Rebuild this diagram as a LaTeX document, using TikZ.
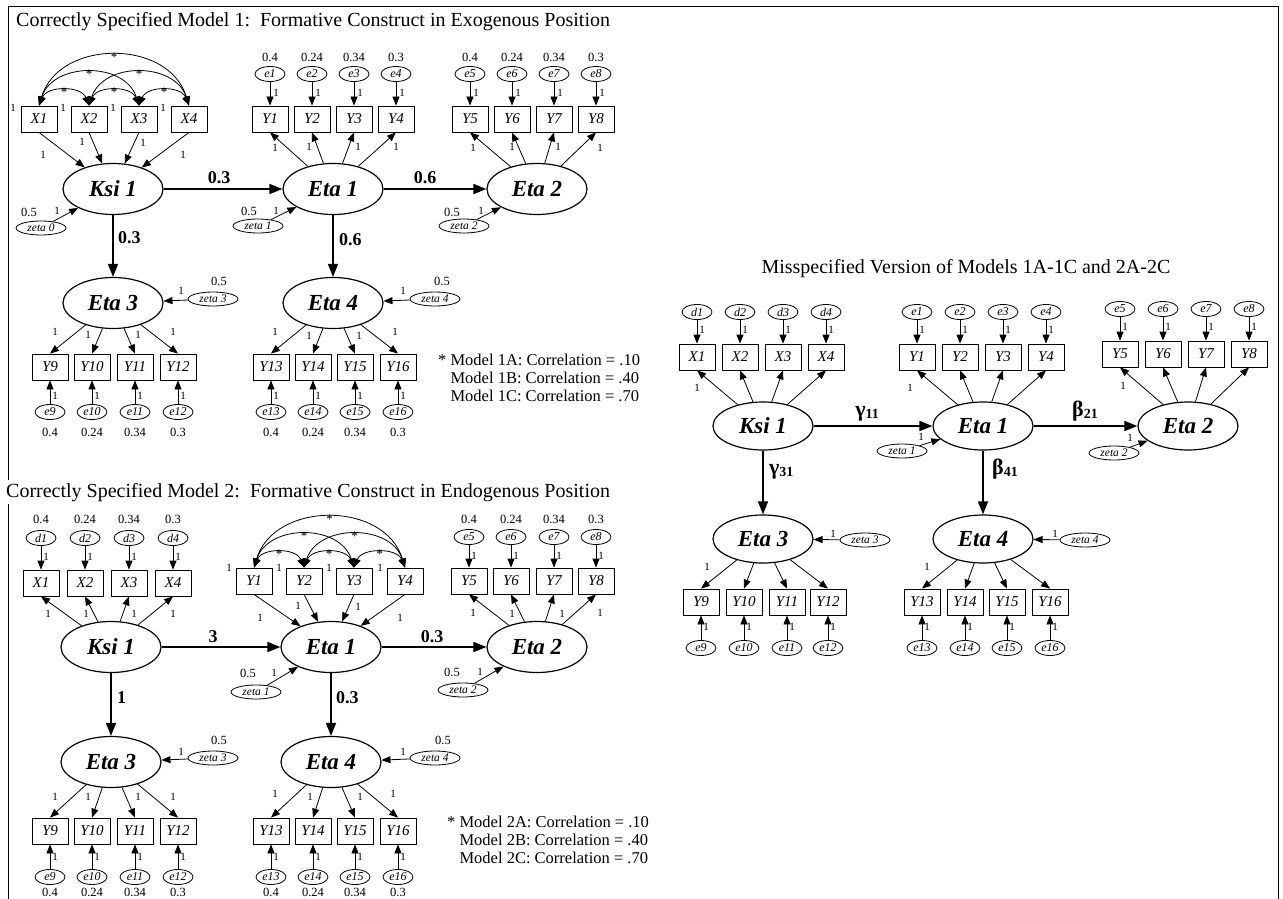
\documentclass[tikz,border=0pt]{standalone}
\usepackage{fontspec}
\setmainfont{Liberation Serif}
\usetikzlibrary{shapes.geometric,arrows.meta}
\newcommand\myfs[1]{\fontsize{#1}{#1}\selectfont}

\begin{document}
\begin{tikzpicture}[x=1pt,y=-1pt,
  lat/.style={draw,ellipse,line width=1.2pt,minimum width=100pt,minimum height=51pt,inner sep=0pt,font=\myfs{23}\bfseries\itshape},
  latr/.style={lat,minimum height=48pt},
  obs/.style={draw,rectangle,line width=0.8pt,minimum width=36pt,minimum height=26pt,inner sep=0pt,font=\myfs{15}\itshape},
  err/.style={draw,ellipse,line width=0.8pt,minimum width=30pt,minimum height=15pt,inner sep=0pt,font=\myfs{12}\itshape},
  zet/.style={draw,ellipse,line width=0.8pt,minimum width=50pt,minimum height=14pt,inner sep=0pt,font=\myfs{11.5}\itshape},
  val/.style={font=\myfs{12.5},inner sep=0pt},
  one/.style={font=\myfs{11},inner sep=0pt},
  coef/.style={font=\myfs{18}\bfseries,inner sep=0pt},
  ttl/.style={font=\myfs{20},inner sep=0pt},
  note/.style={font=\myfs{16.5},inner sep=0pt},
  ast/.style={font=\myfs{13},inner sep=0pt,yshift=-2pt},
  big/.style={-{Triangle[length=13pt,width=10pt]},line width=1.5pt},
  sm/.style={-{Triangle[length=9pt,width=7pt]},line width=0.8pt},
  dbl/.style={{Triangle[length=9pt,width=7pt]}-{Triangle[length=9pt,width=7pt]},line width=0.8pt},
]
\useasboundingbox (0,0) rectangle (1283,899);
\fill[white] (0,0) rectangle (1283,899);

% frame
\draw[line width=1pt] (8,899) -- (8,7) -- (1278,7) -- (1278,899);

% ================= Model 1 =================
\node[ttl,anchor=base west] at (16,27) {Correctly Specified Model 1:\ \ Formative Construct in Exogenous Position};

\node[lat] (aKsi) at (113,189) {Ksi 1};
\node[lat] (aEta1) at (333,189) {Eta 1};
\node[lat] (aEta2) at (537,189) {Eta 2};
\node[lat] (aEta3) at (113,303) {Eta 3};
\node[lat] (aEta4) at (333,303) {Eta 4};

% formative indicators
\foreach \i/\x in {1/39,2/89,3/139,4/189}{
  \node[obs] (aX\i) at (\x,119) {X\i};
  \node[one] at (\x-26,108) {1};
}
\foreach \i in {1,...,4} \draw[sm] (aX\i.south) -- (aKsi);
\node[one] at (43,155) {1};
\node[one] at (82,142) {1};
\node[one] at (143,143) {1};
\node[one] at (183,155) {1};

% correlations among the X's
\draw[dbl] (aX1.north) .. controls +(8,-20) and +(-8,-20) .. (aX2.north) node[ast,pos=.5] {*};
\draw[dbl] (aX2.north) .. controls +(8,-20) and +(-8,-20) .. (aX3.north) node[ast,pos=.5] {*};
\draw[dbl] (aX3.north) .. controls +(8,-20) and +(-8,-20) .. (aX4.north) node[ast,pos=.5] {*};
\draw[dbl] (aX1.north) .. controls +(14,-44) and +(-14,-44) .. (aX3.north) node[ast,pos=.5] {*};
\draw[dbl] (aX2.north) .. controls +(14,-44) and +(-14,-44) .. (aX4.north) node[ast,pos=.5] {*};
\draw[dbl] (aX1.north) .. controls +(20,-67) and +(-20,-67) .. (aX4.north) node[ast,pos=.5] {*};

% reflective indicators of Eta 1 and Eta 2
\foreach \i/\x/\v in {1/270/0.4,2/312/0.24,3/354/0.34,4/396/0.3,5/470/0.4,6/512/0.24,7/554/0.34,8/596/0.3}{
  \node[obs] (aY\i) at (\x,119) {Y\i};
  \node[err] (ae\i) at (\x,74) {e\i};
  \node[val] at (\x,57) {\v};
  \draw[sm] (ae\i) -- (aY\i);
  \node[one] at (\x+6,93) {1};
}
\foreach \i in {1,...,4} \draw[sm] (aEta1) -- (aY\i.south);
\foreach \i in {5,...,8} \draw[sm] (aEta2) -- (aY\i.south);
\node[one] at (275,148) {1};
\node[one] at (309,147) {1};
\node[one] at (358,147) {1};
\node[one] at (396,147) {1};
\node[one] at (473,148) {1};
\node[one] at (512,147) {1};
\node[one] at (558,147) {1};
\node[one] at (600,148) {1};

% disturbances
\node[zet] (aZ0) at (41,228) {zeta 0};
\node[val] at (29,212) {0.5};
\node[one] at (57,211) {1};
\draw[sm] (aZ0) -- (aKsi);
\node[zet] (aZ1) at (258,226) {zeta 1};
\node[val] at (249,211) {0.5};
\node[one] at (276,211) {1};
\draw[sm] (aZ1) -- (aEta1);
\node[zet] (aZ2) at (464,226) {zeta 2};
\node[val] at (452,212) {0.5};
\node[one] at (481,211) {1};
\draw[sm] (aZ2) -- (aEta2);
\node[zet] (aZ3) at (213,299) {zeta 3};
\node[val] at (219,281) {0.5};
\node[one] at (181,291) {1};
\draw[sm] (aZ3) -- (aEta3);
\node[zet] (aZ4) at (435,299) {zeta 4};
\node[val] at (442,281) {0.5};
\node[one] at (403,291) {1};
\draw[sm] (aZ4) -- (aEta4);

% structural paths
\draw[big] (aKsi) -- (aEta1);
\draw[big] (aEta1) -- (aEta2);
\draw[big] (aKsi) -- (aEta3);
\draw[big] (aEta1) -- (aEta4);
\node[coef] at (219,178) {0.3};
\node[coef] at (425,178) {0.6};
\node[coef,anchor=west] at (118,238) {0.3};
\node[coef,anchor=west] at (339,240) {0.6};

% indicators of Eta 3 and Eta 4
\foreach \i/\x/\v in {9/50/0.4,10/92/0.24,11/135/0.34,12/178/0.3,13/271/0.4,14/313/0.24,15/355/0.34,16/398/0.3}{
  \node[obs] (aY\i) at (\x,367) {Y\i};
  \node[err] (ae\i) at (\x,412) {e\i};
  \node[val] at (\x,432) {\v};
  \draw[sm] (ae\i) -- (aY\i);
  \node[one] at (\x+5,396) {1};
}
\foreach \i in {9,...,12} \draw[sm] (aEta3) -- (aY\i.north);
\foreach \i in {13,...,16} \draw[sm] (aEta4) -- (aY\i.north);
\node[one] at (55,332) {1};
\node[one] at (88,335) {1};
\node[one] at (138,335) {1};
\node[one] at (173,332) {1};
\node[one] at (275,332) {1};
\node[one] at (309,336) {1};
\node[one] at (359,336) {1};
\node[one] at (395,332) {1};

\node[note,anchor=base west] at (438,365) {* Model 1A: Correlation = .10};
\node[note,anchor=base west] at (438,383) {\phantom{* }Model 1B: Correlation = .40};
\node[note,anchor=base west] at (438,401) {\phantom{* }Model 1C: Correlation = .70};

% ================= Model 2 =================
\node[ttl,anchor=base west,fill=white,inner xsep=1pt,inner ysep=3pt] at (5,497) {Correctly Specified Model 2:\ \ Formative Construct in Endogenous Position};

\node[lat] (bKsi) at (111,647) {Ksi 1};
\node[lat] (bEta1) at (331,647) {Eta 1};
\node[lat] (bEta2) at (537,647) {Eta 2};
\node[lat] (bEta3) at (111,762) {Eta 3};
\node[lat] (bEta4) at (331,762) {Eta 4};

% reflective indicators of Ksi 1
\foreach \i/\x/\v in {1/41/0.4,2/85/0.24,3/129/0.34,4/173/0.3}{
  \node[obs] (bX\i) at (\x,583) {X\i};
  \node[err] (bd\i) at (\x,538) {d\i};
  \node[val] at (\x,519) {\v};
  \draw[sm] (bd\i) -- (bX\i);
  \node[one] at (\x+5,557) {1};
  \draw[sm] (bKsi) -- (bX\i.south);
}
\node[one] at (48,614) {1};
\node[one] at (86,614) {1};
\node[one] at (134,614) {1};
\node[one] at (173,614) {1};

% formative indicators of Eta 1
\foreach \i/\x in {1/254,2/304,3/354,4/405}{
  \node[obs] (bY\i) at (\x,581) {Y\i};
  \node[one] at (\x-25,568) {1};
  \draw[sm] (bY\i.south) -- (bEta1);
}
\node[one] at (260,618) {1};
\node[one] at (298,606) {1};
\node[one] at (358,607) {1};
\node[one] at (400,618) {1};

% correlations among Y1-Y4
\draw[dbl] (bY1.north) .. controls +(8,-20) and +(-8,-20) .. (bY2.north) node[ast,pos=.5] {*};
\draw[dbl] (bY2.north) .. controls +(8,-20) and +(-8,-20) .. (bY3.north) node[ast,pos=.5] {*};
\draw[dbl] (bY3.north) .. controls +(8,-20) and +(-8,-20) .. (bY4.north) node[ast,pos=.5] {*};
\draw[dbl] (bY1.north) .. controls +(14,-44) and +(-14,-44) .. (bY3.north) node[ast,pos=.5] {*};
\draw[dbl] (bY2.north) .. controls +(14,-44) and +(-14,-44) .. (bY4.north) node[ast,pos=.5] {*};
\draw[dbl] (bY1.north) .. controls +(20,-67) and +(-20,-67) .. (bY4.north) node[ast,pos=.5] {*};

% reflective indicators of Eta 2
\foreach \i/\x/\v in {5/469/0.4,6/511/0.24,7/554/0.34,8/596/0.3}{
  \node[obs] (bY\i) at (\x,581) {Y\i};
  \node[err] (be\i) at (\x,537) {e\i};
  \node[val] at (\x,519) {\v};
  \draw[sm] (be\i) -- (bY\i);
  \node[one] at (\x+5,556) {1};
  \draw[sm] (bEta2) -- (bY\i.south);
}
\node[one] at (473,613) {1};
\node[one] at (512,614) {1};
\node[one] at (562,614) {1};
\node[one] at (600,613) {1};

% disturbances
\node[zet] (bZ1) at (256,692) {zeta 1};
\node[val] at (248,673) {0.5};
\node[one] at (274,673) {1};
\draw[sm] (bZ1) -- (bEta1);
\node[zet] (bZ2) at (463,690) {zeta 2};
\node[val] at (452,672) {0.5};
\node[one] at (480,672) {1};
\draw[sm] (bZ2) -- (bEta2);
\node[zet] (bZ3) at (213,758) {zeta 3};
\node[val] at (219,740) {0.5};
\node[one] at (181,752) {1};
\draw[sm] (bZ3) -- (bEta3);
\node[zet] (bZ4) at (435,758) {zeta 4};
\node[val] at (443,740) {0.5};
\node[one] at (403,752) {1};
\draw[sm] (bZ4) -- (bEta4);

% structural paths
\draw[big] (bKsi) -- (bEta1);
\draw[big] (bEta1) -- (bEta2);
\draw[big] (bKsi) -- (bEta3);
\draw[big] (bEta1) -- (bEta4);
\node[coef] at (213,637) {3};
\node[coef] at (432,637) {0.3};
\node[coef,anchor=west] at (117,698) {1};
\node[coef,anchor=west] at (336,698) {0.3};

% indicators of Eta 3 and Eta 4
\foreach \i/\x/\v in {9/50/0.4,10/92/0.24,11/135/0.34,12/178/0.3,13/271/0.4,14/313/0.24,15/355/0.34,16/398/0.3}{
  \node[obs] (bY\i) at (\x,831) {Y\i};
  \node[err] (be\i) at (\x,877) {e\i};
  \node[val] at (\x,892) {\v};
  \draw[sm] (be\i) -- (bY\i);
  \node[one] at (\x+5,857) {1};
}
\foreach \i in {9,...,12} \draw[sm] (bEta3) -- (bY\i.north);
\foreach \i in {13,...,16} \draw[sm] (bEta4) -- (bY\i.north);
\node[one] at (55,797) {1};
\node[one] at (88,797) {1};
\node[one] at (138,797) {1};
\node[one] at (173,797) {1};
\node[one] at (275,794) {1};
\node[one] at (310,797) {1};
\node[one] at (360,797) {1};
\node[one] at (393,794) {1};

\node[note,anchor=base west] at (447,827) {* Model 2A: Correlation = .10};
\node[note,anchor=base west] at (447,845) {\phantom{* }Model 2B: Correlation = .40};
\node[note,anchor=base west] at (447,863) {\phantom{* }Model 2C: Correlation = .70};

% ================= Misspecified version =================
\node[ttl,anchor=base] at (966,273) {Misspecified Version of Models 1A-1C and 2A-2C};

\node[latr] (cKsi) at (763,426) {Ksi 1};
\node[latr] (cEta1) at (983,426) {Eta 1};
\node[latr] (cEta2) at (1188,426) {Eta 2};
\node[latr] (cEta3) at (763,539) {Eta 3};
\node[latr] (cEta4) at (983,539) {Eta 4};

\foreach \i/\x in {1/697,2/740,3/783,4/826}{
  \node[obs] (cX\i) at (\x,357) {X\i};
  \node[err] (cd\i) at (\x,312) {d\i};
  \draw[sm] (cd\i) -- (cX\i);
  \node[one] at (\x+5,330) {1};
  \draw[sm] (cKsi) -- (cX\i.south);
}
\foreach \i/\x in {1/917,2/960,3/1003,4/1046}{
  \node[obs] (cY\i) at (\x,357) {Y\i};
  \node[err] (ce\i) at (\x,312) {e\i};
  \draw[sm] (ce\i) -- (cY\i);
  \node[one] at (\x+5,330) {1};
  \draw[sm] (cEta1) -- (cY\i.south);
}
\foreach \i/\x in {5/1120,6/1163,7/1206,8/1249}{
  \node[obs] (cY\i) at (\x,354) {Y\i};
  \node[err] (ce\i) at (\x,309) {e\i};
  \draw[sm] (ce\i) -- (cY\i);
  \node[one] at (\x+5,327) {1};
  \draw[sm] (cEta2) -- (cY\i.south);
}
\node[one] at (697,388) {1};
\node[one] at (910,388) {1};
\node[one] at (1123,386) {1};

\node[zet] (cZ1) at (902,451) {zeta 1};
\node[one] at (921,437) {1};
\draw[sm] (cZ1) -- (cEta1);
\node[zet] (cZ2) at (1114,453) {zeta 2};
\node[one] at (1130,438) {1};
\draw[sm] (cZ2) -- (cEta2);
\node[zet] (cZ3) at (865,540) {zeta 3};
\node[one] at (833,534) {1};
\draw[sm] (cZ3) -- (cEta3);
\node[zet] (cZ4) at (1085,540) {zeta 4};
\node[one] at (1055,534) {1};
\draw[sm] (cZ4) -- (cEta4);

\draw[big] (cKsi) -- (cEta1);
\draw[big] (cEta1) -- (cEta2);
\draw[big] (cKsi) -- (cEta3);
\draw[big] (cEta1) -- (cEta4);
\node[coef,anchor=base] at (867,416) {{\myfs{22}γ}\raisebox{-2pt}{\myfs{14}\bfseries 11}};
\node[coef,anchor=base] at (1085,416) {{\myfs{22}β}\raisebox{-2pt}{\myfs{14}\bfseries 21}};
\node[coef,anchor=base west] at (769,474) {{\myfs{22}γ}\raisebox{-2pt}{\myfs{14}\bfseries 31}};
\node[coef,anchor=base west] at (992,474) {{\myfs{22}β}\raisebox{-2pt}{\myfs{14}\bfseries 41}};

\foreach \i/\x in {9/701,10/744,11/787,12/828,13/922,14/965,15/1007,16/1050}{
  \node[obs] (cY\i) at (\x,602) {Y\i};
  \node[err] (ce\i) at (\x,648) {e\i};
  \draw[sm] (ce\i) -- (cY\i);
  \node[one] at (\x+5,627) {1};
}
\foreach \i in {9,...,12} \draw[sm] (cEta3) -- (cY\i.north);
\foreach \i in {13,...,16} \draw[sm] (cEta4) -- (cY\i.north);
\node[one] at (707,567) {1};
\node[one] at (927,567) {1};

\end{tikzpicture}
\end{document}
